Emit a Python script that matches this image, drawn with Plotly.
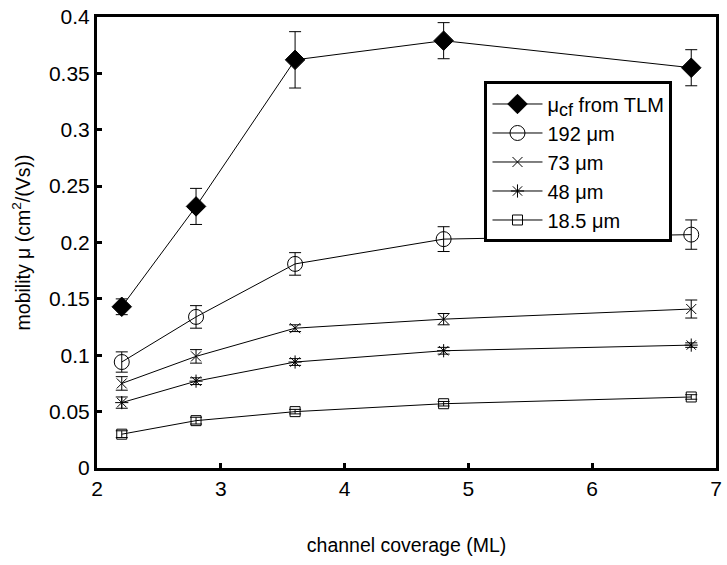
import plotly.graph_objects as go

coverage = [2.2, 2.8, 3.6, 4.8, 6.8]

names = ["μ<sub><span style=\"font-size:18px\">cf</span></sub> from TLM",
         "192 μm", "73 μm", "48 μm", "18.5 μm"]
values = [
    [0.143, 0.232, 0.362, 0.379, 0.355],
    [0.094, 0.134, 0.181, 0.203, 0.207],
    [0.075, 0.099, 0.124, 0.132, 0.141],
    [0.058, 0.077, 0.094, 0.104, 0.109],
    [0.030, 0.042, 0.050, 0.057, 0.063],
]
errors = [
    [0.007, 0.016, 0.025, 0.016, 0.016],
    [0.009, 0.010, 0.010, 0.011, 0.013],
    [0.006, 0.006, 0.003, 0.005, 0.008],
    [0.005, 0.003, 0.003, 0.003, 0.002],
    [0.003, 0.003, 0.002, 0.002, 0.002],
]
symbols = ["diamond", "circle-open", "x-thin-open", "asterisk-open", "square-open"]
sizes = [15, 15, 10, 11, 10]

FONT = "Liberation Sans, Arial"

fig = go.Figure()
for n, v, e, s, sz in zip(names, values, errors, symbols, sizes):
    fig.add_trace(go.Scatter(
        x=coverage, y=v, name=n, mode="lines+markers",
        line=dict(color="black", width=1),
        marker=dict(symbol=s, size=sz, color="black",
                    line=dict(color="black", width=1)),
        error_y=dict(type="data", array=e, color="black", thickness=1, width=6),
    ))

axis_common = dict(
    showline=True, linecolor="black", linewidth=3, mirror=True,
    ticks="inside", ticklen=5, tickwidth=3, tickcolor="black",
    showgrid=False, zeroline=False,
    tickfont=dict(family=FONT, size=21, color="black"),
)
fig.update_xaxes(range=[2, 7], dtick=1, **axis_common,
                 title=dict(text="channel coverage (ML)",
                            font=dict(family=FONT, size=19.5, color="black"),
                            standoff=40))
fig.update_yaxes(range=[0, 0.4], dtick=0.05, **axis_common,
                 title=dict(text="mobility μ (cm<sup>2</sup>/(Vs))",
                            font=dict(family=FONT, size=19.5, color="black"),
                            standoff=14))

fig.update_layout(
    width=727, height=565,
    margin=dict(l=97, r=5, t=14, b=97),
    plot_bgcolor="white", paper_bgcolor="white",
    legend=dict(x=0.626, y=0.857, xanchor="left", yanchor="top",
                bordercolor="black", borderwidth=3, bgcolor="white",
                font=dict(family=FONT, size=20, color="black"),
                itemwidth=50, tracegroupgap=0),
    showlegend=True,
)

fig.write_html("out.html")
